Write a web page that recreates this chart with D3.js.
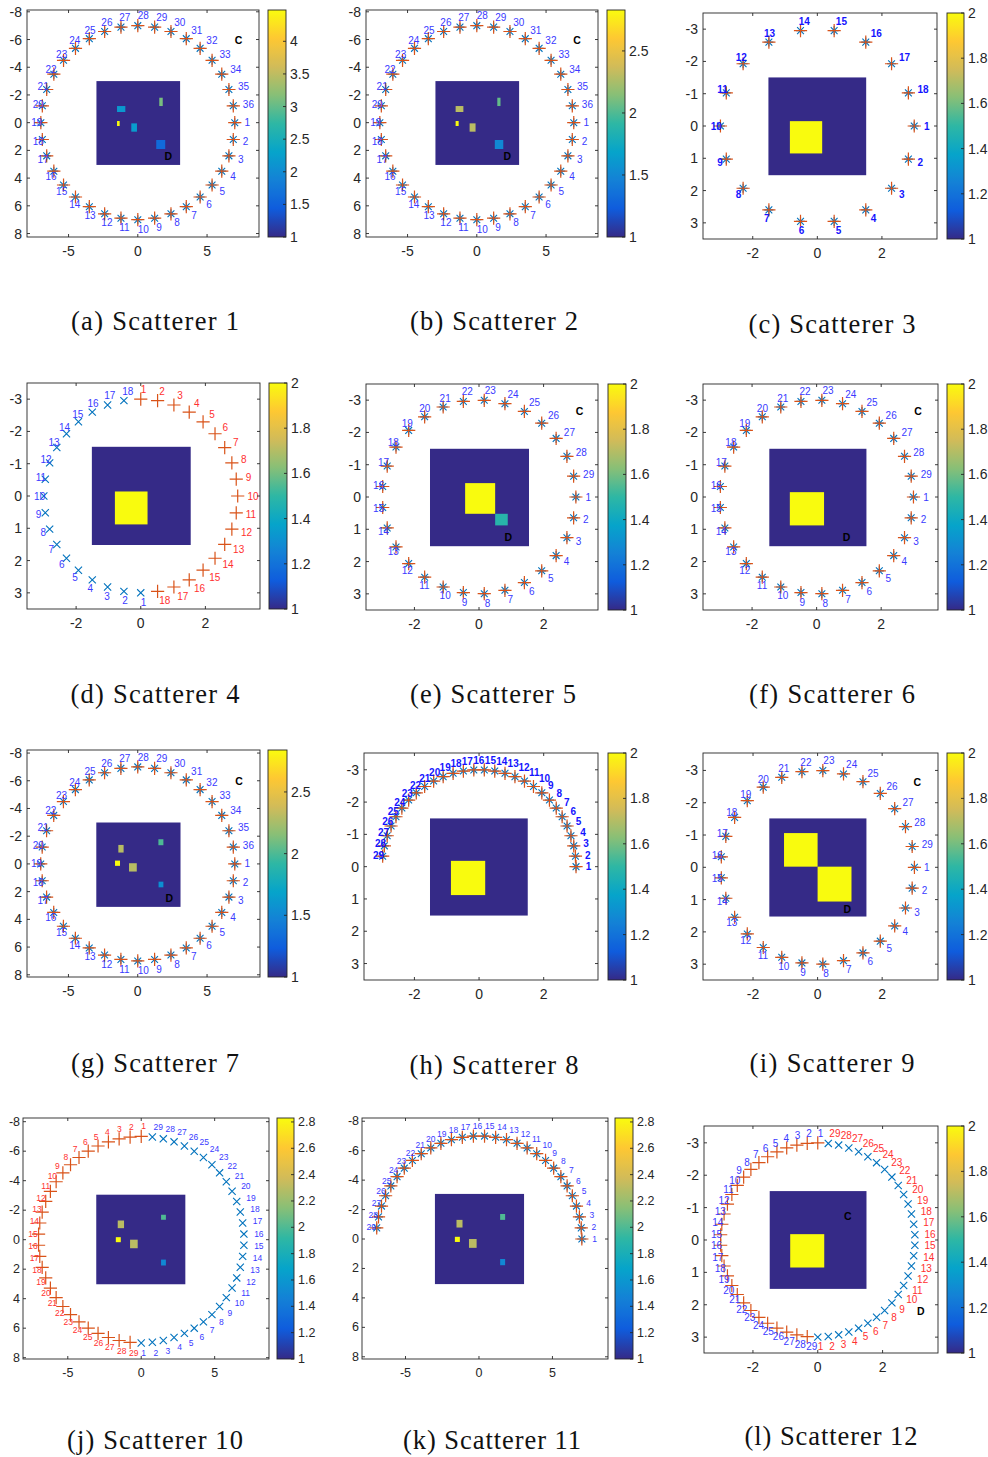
<!DOCTYPE html>
<html><head><meta charset="utf-8">
<script src="https://cdn.jsdelivr.net/npm/d3@7"></script>
<style>body{margin:0;background:#fff}svg{display:block}</style>
</head><body>
<svg id="fig" width="988" height="1457"></svg>
<script>
// ================= DATA =================
// marker bearings (degrees, clockwise from top of the plot)
const bearings36 = [90,100,110,120,130,140,150,160,170,180,190,200,210,220,230,240,250,260,270,280,290,300,310,320,330,340,350,0,10,20,30,40,50,60,70,80];
const bearings18 = [90,110,130,150,170,190,210,230,250,270,290,310,330,350,10,30,50,70];
const bearingsDx = [180,190,200,210,220,230,240,250,260,270,280,290,300,310,320,330,340,350];
const bearingsDplus = [0,10,20,30,40,50,60,70,80,90,100,110,120,130,140,150,160,170];
const bearings29 = [90,102.41,114.83,127.24,139.66,152.07,164.48,176.9,189.31,201.72,214.14,226.55,238.97,251.38,263.79,276.21,288.62,301.03,313.45,325.86,338.28,350.69,3.1,15.52,27.93,40.34,52.76,65.17,77.59];
const bearingsArc29 = [90,83.79,77.59,71.38,65.17,58.97,52.76,46.55,40.34,34.14,27.93,21.72,15.52,9.31,3.1,-3.1,-9.31,-15.52,-21.72,-27.93,-34.14,-40.34,-46.55,-52.76,-58.97,-65.17,-71.38,-77.59,-83.79];
const bearingsPlus29 = [0,-6.21,-12.41,-18.62,-24.83,-31.03,-37.24,-43.45,-49.66,-55.86,-62.07,-68.28,-74.48,-80.69,-86.9,-93.1,-99.31,-105.52,-111.72,-117.93,-124.14,-130.34,-136.55,-142.76,-148.97,-155.17,-161.38,-167.59,-173.79];
const bearingsX29 = [180,173.79,167.59,161.38,155.17,148.97,142.76,136.55,130.34,124.14,117.93,111.72,105.52,99.31,93.1,86.9,80.69,74.48,68.28,62.07,55.86,49.66,43.45,37.24,31.03,24.83,18.62,12.41,6.21];

// central image cells: [x0, x1, y0, y1, value]
const cellsA = [[-3,3.07,-3,3.05,1],[-1.5,-0.9,-1.2,-0.77,2.15],[1.55,1.8,-1.8,-1.2,3.1],[-1.5,-1.31,-0.12,0.24,4.48],[-0.47,-0.06,0.05,0.65,2.2],[1.33,1.98,1.25,1.9,1.6]];
const cellsB = [[-3,3.07,-3,3.05,1],[-1.53,-0.97,-1.2,-0.77,2.3],[1.48,1.71,-1.8,-1.2,2.05],[-1.53,-1.31,-0.12,0.24,2.83],[-0.52,-0.09,0.05,0.65,2.3],[1.3,1.91,1.25,1.9,1.5]];
const cellsC = [[-1.52,1.52,-1.51,1.53,1],[-0.85,0.15,-0.15,0.85,2]];
const cellsD = [[-1.52,1.55,-1.53,1.52,1],[-0.8,0.21,-0.14,0.88,2]];
const cellsE = [[-1.52,1.55,-1.5,1.53,1],[-0.43,0.5,-0.43,0.52,2],[0.5,0.89,0.52,0.88,1.48]];
const cellsF = [[-1.47,1.55,-1.5,1.53,1],[-0.83,0.23,-0.15,0.88,2]];
const cellsG = [[-3,3.1,-3,3.1,1],[-1.4,-1.02,-1.37,-0.82,2.3],[1.49,1.85,-1.78,-1.35,2.0],[-1.64,-1.28,-0.24,0.14,2.84],[-0.63,-0.07,-0.05,0.55,2.3],[1.5,1.85,1.28,1.69,1.55]];
const cellsH = [[-1.52,1.51,-1.5,1.52,1],[-0.87,0.19,-0.18,0.88,2]];
const cellsI = [[-1.5,1.52,-1.52,1.53,1],[-1.04,0,-1.06,-0.02,2],[0,1.05,-0.02,1.06,2]];
const cellsJ = [[-3.07,3.02,-3.07,3.04,1],[-1.6,-1.17,-1.3,-0.78,2.3],[1.35,1.68,-1.69,-1.35,2.0],[-1.73,-1.39,-0.17,0.17,2.83],[-0.76,-0.24,0,0.58,2.3],[1.35,1.68,1.35,1.75,1.5]];
const cellsK = [[-3.01,3.08,-3.08,3.08,1],[-1.53,-1.12,-1.3,-0.78,2.3],[1.44,1.78,-1.7,-1.3,2.0],[-1.64,-1.3,-0.15,0.2,2.83],[-0.68,-0.16,0,0.6,2.3],[1.44,1.78,1.36,1.78,1.5]];
const cellsL = [[-1.49,1.51,-1.51,1.51,1],[-0.85,0.2,-0.18,0.85,2]];

// "C" / "D" annotations: [text, x, y]
const notesA = [["C",7.27,-6.0],["D",2.2,2.38]];
const notesB = [["C",7.24,-6.0],["D",2.2,2.38]];
const notesE = [["C",3.11,-2.67],["D",0.91,1.25]];
const notesF = [["C",3.14,-2.67],["D",0.93,1.25]];
const notesG = [["C",7.3,-6.0],["D",2.28,2.43]];
const notesI = [["C",3.09,-2.65],["D",0.92,1.3]];
const notesL = [["C",0.93,-0.74],["D",3.18,2.18]];

// ticks
const yTicksLarge = [-8,-6,-4,-2,0,2,4,6,8];
const xTicksLarge = [-5,0,5];
const yTicksSmall = [-3,-2,-1,0,1,2,3];
const xTicksSmall = [-2,0,2];
const cbTicks05wide = [1,1.5,2,2.5,3,3.5,4];
const cbTicks05 = [1,1.5,2,2.5];
const cbTicks02 = [1,1.2,1.4,1.6,1.8,2];
const cbTicks02wide = [1,1.2,1.4,1.6,1.8,2,2.2,2.4,2.6,2.8];
const cRangeA = [1,4.48], cRangeB = [1,2.83], cRangeG = [1,2.84], cRangeJ = [1,2.83], cRangeS = [1,2];

const captions = ["(a) Scatterer 1","(b) Scatterer 2","(c) Scatterer 3","(d) Scatterer 4","(e) Scatterer 5","(f) Scatterer 6","(g) Scatterer 7","(h) Scatterer 8","(i) Scatterer 9","(j) Scatterer 10","(k) Scatterer 11","(l) Scatterer 12"];

const PANELS = [
 {cells:cellsA, notes:notesA, cRange:cRangeA, cbTicks:cbTicks05wide, xTicks:xTicksLarge, yTicks:yTicksLarge, sets:[{bear:bearings36,r:7,mark:'star',lab:'blue'}]},
 {cells:cellsB, notes:notesB, cRange:cRangeB, cbTicks:cbTicks05, xTicks:xTicksLarge, yTicks:yTicksLarge, sets:[{bear:bearings36,r:7,mark:'star',lab:'blue'}]},
 {cells:cellsC, notes:[], cRange:cRangeS, cbTicks:cbTicks02, xTicks:xTicksSmall, yTicks:yTicksSmall, sets:[{bear:bearings18,r:3,mark:'star',lab:'blue'}]},
 {cells:cellsD, notes:[], cRange:cRangeS, cbTicks:cbTicks02, xTicks:xTicksSmall, yTicks:yTicksSmall, sets:[{bear:bearingsDx,r:3,mark:'x',lab:'blue'},{bear:bearingsDplus,r:3,mark:'plus',lab:'red'}]},
 {cells:cellsE, notes:notesE, cRange:cRangeS, cbTicks:cbTicks02, xTicks:xTicksSmall, yTicks:yTicksSmall, sets:[{bear:bearings29,r:3,mark:'star',lab:'blue'}]},
 {cells:cellsF, notes:notesF, cRange:cRangeS, cbTicks:cbTicks02, xTicks:xTicksSmall, yTicks:yTicksSmall, sets:[{bear:bearings29,r:3,mark:'star',lab:'blue'}]},
 {cells:cellsG, notes:notesG, cRange:cRangeG, cbTicks:cbTicks05, xTicks:xTicksLarge, yTicks:yTicksLarge, sets:[{bear:bearings36,r:7,mark:'star',lab:'blue'}], soft:true},
 {cells:cellsH, notes:[], cRange:cRangeS, cbTicks:cbTicks02, xTicks:xTicksSmall, yTicks:yTicksSmall, sets:[{bear:bearingsArc29,r:3,mark:'star',lab:'blue'}]},
 {cells:cellsI, notes:notesI, cRange:cRangeS, cbTicks:cbTicks02, xTicks:xTicksSmall, yTicks:yTicksSmall, sets:[{bear:bearings29,r:3,mark:'star',lab:'blue'}]},
 {cells:cellsJ, notes:[], cRange:cRangeJ, cbTicks:cbTicks02wide, xTicks:xTicksLarge, yTicks:yTicksLarge, sets:[{bear:bearingsPlus29,r:7,mark:'plus',lab:'red'},{bear:bearingsX29,r:7,mark:'x',lab:'blue'}]},
 {cells:cellsK, notes:[], cRange:cRangeJ, cbTicks:cbTicks02wide, xTicks:xTicksLarge, yTicks:yTicksLarge, sets:[{bear:bearingsArc29,r:7,mark:'star',lab:'blue'}]},
 {cells:cellsL, notes:notesL, cRange:cRangeS, cbTicks:cbTicks02, xTicks:xTicksSmall, yTicks:yTicksSmall, sets:[{bear:bearingsPlus29,r:3,mark:'plus',lab:'blue'},{bear:bearingsX29,r:3,mark:'x',lab:'red'}]}
];

// ================= LAYOUT =================
const LAYOUT = [
 {b:[27,10,232,227], xd:[-8.0,8.75], yd:[-8.13,8.25], cb:[268,10,18,227], cap:[155,330,168], lf:10, bold:false, tf:14},
 {b:[366,10,232,227], xd:[-8.0,8.75], yd:[-8.13,8.25], cb:[607,10,18,227], cap:[494,330,168], lf:10, bold:false, tf:14},
 {b:[703,13,234,226], xd:[-3.54,3.705], yd:[-3.5,3.5], cb:[947,13,17,226], cap:[832,333,167], lf:10, bold:true, tf:14},
 {b:[27,383,233,226], xd:[-3.52,3.69], yd:[-3.5,3.5], cb:[269,383,18,226], cap:[155,703,169], lf:10, bold:false, tf:14},
 {b:[366,384,232,226], xd:[-3.5,3.685], yd:[-3.5,3.5], cb:[608,384,18,226], cap:[493,703,166], lf:10, bold:false, tf:14},
 {b:[703,384,235,226], xd:[-3.52,3.76], yd:[-3.5,3.5], cb:[947,384,17,226], cap:[832,703,166], lf:10, bold:false, tf:14},
 {b:[27,750,233,227], xd:[-7.99,8.82], yd:[-8.22,8.16], cb:[268,750,19,227], cap:[155,1072,168], lf:10, bold:false, tf:14},
 {b:[364,753,234,227], xd:[-3.56,3.68], yd:[-3.52,3.51], cb:[608,753,18,227], cap:[494,1074,169], lf:10, bold:true, tf:14},
 {b:[703,753,235,227], xd:[-3.55,3.73], yd:[-3.54,3.49], cb:[947,753,17,227], cap:[832,1072,165], lf:10, bold:false, tf:14},
 {b:[23,1118,246,241], xd:[-8.05,8.7], yd:[-8.25,8.09], cb:[277,1118,17,241], cap:[155,1449,176], lf:8.5, bold:false, tf:12.5},
 {b:[362,1118,246,241], xd:[-7.96,8.78], yd:[-8.22,8.15], cb:[615,1118,18,241], cap:[492,1449,178], lf:8.5, bold:false, tf:12.5},
 {b:[704,1126,234,227], xd:[-3.51,3.71], yd:[-3.52,3.49], cb:[947,1126,17,227], cap:[831,1445,173], lf:10, bold:false, tf:14}
];

const BLUE = '#0072BD', ORANGE = '#D95319';
const AXC = '#262626';
const SANS = '"Liberation Sans", Arial, Helvetica, sans-serif';

// ================= RENDER =================
const svg = d3.select('#fig');
const defs = svg.append('defs');
const parulaHex = ['#352a87','#0f5cdd','#1481d6','#06a4ca','#2eb7a4','#87bf77','#d1bb59','#fec832','#f9fb0e'];
const parula = d3.scaleLinear().domain(parulaHex.map((_, i) => i / (parulaHex.length - 1))).range(parulaHex).interpolate(d3.interpolateRgb).clamp(true);
const grad = defs.append('linearGradient').attr('id', 'parulaGrad').attr('x1', 0).attr('y1', 1).attr('x2', 0).attr('y2', 0);
d3.range(0, 65).forEach(i => grad.append('stop').attr('offset', i / 64).attr('stop-color', parula(i / 64)));
const filt = defs.append('filter').attr('id', 'soft').attr('x', '-50%').attr('y', '-50%').attr('width', '200%').attr('height', '200%');
filt.append('feGaussianBlur').attr('stdDeviation', 0.6);

const fmt = v => String(+v.toFixed(2));

PANELS.forEach((p, i) => {
  const L = LAYOUT[i];
  const [bx, by, bw, bh] = L.b;
  const g = svg.append('g');
  const x = d3.scaleLinear().domain(L.xd).range([bx, bx + bw]);
  const y = d3.scaleLinear().domain(L.yd).range([by, by + bh]);
  const cnorm = d3.scaleLinear().domain(p.cRange).range([0, 1]).clamp(true);
  const color = v => parula(cnorm(v));

  // central image
  const sq = p.cells[0];
  const clipId = 'clip' + i;
  defs.append('clipPath').attr('id', clipId).append('rect')
    .attr('x', x(sq[0])).attr('y', y(sq[2])).attr('width', x(sq[1]) - x(sq[0])).attr('height', y(sq[3]) - y(sq[2]));
  const gi = g.append('g').attr('clip-path', `url(#${clipId})`);
  gi.append('rect').attr('x', x(sq[0])).attr('y', y(sq[2]))
    .attr('width', x(sq[1]) - x(sq[0])).attr('height', y(sq[3]) - y(sq[2])).attr('fill', color(sq[4]));
  const gc = gi.append('g');
  if (p.soft) gc.attr('filter', 'url(#soft)');
  gc.selectAll('rect').data(p.cells.slice(1)).join('rect')
    .attr('x', d => x(d[0])).attr('y', d => y(d[2]))
    .attr('width', d => x(d[1]) - x(d[0])).attr('height', d => y(d[3]) - y(d[2]))
    .attr('fill', d => color(d[4]));

  // markers
  const toRad = Math.PI / 180;
  p.sets.forEach(s => {
    const pts = s.bear.map((b, k) => {
      const [px, py] = d3.pointRadial(b * toRad, s.r);
      const [lx, ly] = d3.pointRadial(b * toRad, s.r * 1.1);
      return {cx: x(px), cy: y(py), lx: x(lx), ly: y(ly), n: k + 1};
    });
    const plusPath = (d, h) => `M${d.cx - h},${d.cy}H${d.cx + h}M${d.cx},${d.cy - h}V${d.cy + h}`;
    const xPath = (d, h) => `M${d.cx - h},${d.cy - h}L${d.cx + h},${d.cy + h}M${d.cx - h},${d.cy + h}L${d.cx + h},${d.cy - h}`;
    const gm = g.append('g').attr('fill', 'none');
    if (s.mark === 'star') {
      gm.selectAll('path.bs').data(pts).join('path').attr('class', 'bs')
        .attr('d', d => plusPath(d, 4.5) + xPath(d, 3.4)).attr('stroke', BLUE).attr('stroke-width', 1.1);
      gm.selectAll('path.op').data(pts).join('path').attr('class', 'op')
        .attr('d', d => plusPath(d, 6.6)).attr('stroke', ORANGE).attr('stroke-width', 1.2);
    } else if (s.mark === 'plus') {
      gm.selectAll('path').data(pts).join('path')
        .attr('d', d => plusPath(d, 6.6)).attr('stroke', ORANGE).attr('stroke-width', 1.2);
    } else {
      gm.selectAll('path').data(pts).join('path')
        .attr('d', d => xPath(d, 3.6)).attr('stroke', BLUE).attr('stroke-width', 1.1);
    }
    const labColor = s.lab === 'red' ? '#ff3030' : (L.bold ? '#1414ff' : '#3a3aff');
    g.append('g').selectAll('text').data(pts).join('text')
      .attr('x', d => d.lx).attr('y', d => d.ly)
      .attr('dominant-baseline', 'central').attr('text-anchor', 'start')
      .attr('font-family', SANS).attr('font-size', L.lf).attr('font-weight', L.bold ? 'bold' : 'normal')
      .attr('fill', labColor).text(d => d.n);
  });

  // C / D notes
  g.append('g').selectAll('text').data(p.notes).join('text')
    .attr('x', d => x(d[1])).attr('y', d => y(d[2]))
    .attr('text-anchor', 'middle').attr('dominant-baseline', 'central')
    .attr('font-family', SANS).attr('font-size', 10.5).attr('font-weight', 'bold').attr('fill', '#000')
    .text(d => d[0]);

  // axes frame and ticks
  const ga = g.append('g').attr('stroke', AXC).attr('stroke-width', 0.9).attr('fill', 'none');
  ga.append('rect').attr('x', bx).attr('y', by).attr('width', bw).attr('height', bh);
  const tl = 3;
  ga.selectAll('path.xt').data(p.xTicks).join('path').attr('class', 'xt')
    .attr('d', v => `M${x(v)},${by + bh}v${-tl}M${x(v)},${by}v${tl}`);
  ga.selectAll('path.yt').data(p.yTicks).join('path').attr('class', 'yt')
    .attr('d', v => `M${bx},${y(v)}h${tl}M${bx + bw},${y(v)}h${-tl}`);
  const gl = g.append('g').attr('font-family', SANS).attr('font-size', L.tf).attr('fill', AXC);
  gl.selectAll('text.xl').data(p.xTicks).join('text').attr('class', 'xl')
    .attr('x', v => x(v)).attr('y', by + bh + 14).attr('dominant-baseline', 'central')
    .attr('text-anchor', 'middle').text(fmt);
  gl.selectAll('text.yl').data(p.yTicks).join('text').attr('class', 'yl')
    .attr('x', bx - (L.tf < 14 ? 3 : 5)).attr('y', v => y(v)).attr('dominant-baseline', 'central')
    .attr('text-anchor', 'end').text(fmt);

  // colorbar
  const [cx0, cy0, cw, ch] = L.cb;
  const cy = d3.scaleLinear().domain(p.cRange).range([cy0 + ch, cy0]);
  g.append('rect').attr('x', cx0).attr('y', cy0).attr('width', cw).attr('height', ch)
    .attr('fill', 'url(#parulaGrad)').attr('stroke', AXC).attr('stroke-width', 0.9);
  g.append('g').attr('stroke', AXC).attr('stroke-width', 0.9).selectAll('path').data(p.cbTicks).join('path')
    .attr('d', v => `M${cx0 + cw},${cy(v)}h${-tl}`);
  g.append('g').attr('font-family', SANS).attr('font-size', L.tf).attr('fill', AXC)
    .selectAll('text').data(p.cbTicks).join('text')
    .attr('x', cx0 + cw + 4).attr('y', v => cy(v)).attr('dominant-baseline', 'central')
    .text(fmt);

  // caption
  g.append('text').attr('x', L.cap[0]).attr('y', L.cap[1]).attr('text-anchor', 'middle')
    .attr('font-family', '"Liberation Serif", "Times New Roman", serif').attr('font-size', 26.5)
    .attr('textLength', L.cap[2]).attr('lengthAdjust', 'spacing')
    .attr('fill', '#111').text(captions[i]);
});
</script>
</body></html>
